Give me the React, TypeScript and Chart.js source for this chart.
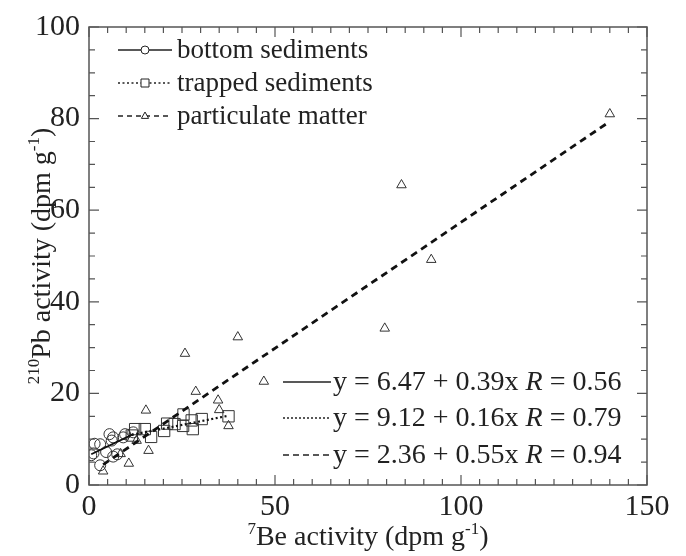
import React, { useEffect, useRef } from "react";
import { Chart, registerables } from "chart.js";

Chart.register(...registerables);

// ---- data ----
const bottomX = [0.6, 1.2, 1.5, 3.0, 3.0, 4.6, 5.5, 6.1, 6.5, 6.5, 7.6, 9.2, 9.7, 11.9];
const bottomY = [6.5, 6.9, 9.0, 8.9, 4.3, 7.2, 11.1, 9.7, 10.4, 6.2, 6.7, 10.4, 11.1, 11.5];

const trappedX = [11.5, 12.4, 15.0, 16.7, 20.2, 21.0, 23.0, 25.3, 25.4, 27.6, 27.9, 30.3, 37.5];
const trappedY = [10.8, 12.2, 12.2, 10.5, 11.8, 13.4, 13.3, 12.9, 15.4, 14.1, 12.2, 14.4, 15.0];

const particX = [140, 84, 92, 79.5, 40, 25.8, 47, 28.7, 34.7, 35, 37.5, 15.3, 12.8, 16, 8.5, 10.7, 3.8];
const particY = [81, 65.5, 49.2, 34.2, 32.3, 28.7, 22.6, 20.4, 18.5, 16.4, 12.9, 16.3, 9.7, 7.5, 6.8, 4.7, 3.0];

// linear fits as printed on the chart
const fitIntercepts = [6.47, 9.12, 2.36];
const fitSlopes = [0.39, 0.16, 0.55];
const fitFrom = [0.6, 11.5, 3.8];
const fitTo = [11.9, 37.5, 140];
const fitLabels = ["y = 6.47 + 0.39x ", "y = 9.12 + 0.16x ", "y = 2.36 + 0.55x "];
const fitR = ["0.56", "0.79", "0.94"];

const seriesNames = ["bottom sediments", "trapped sediments", "particulate matter"];
const xTicks = [0, 50, 100, 150];
const yTicks = [0, 20, 40, 60, 80, 100];

const INK = "#222";
const FRAME = "#555";
const SERIF = "'Liberation Serif', 'Times New Roman', serif";

const dashes: number[][] = [[], [2, 2.5], [7, 5]];
const widths = [1.8, 2.2, 2.8];
const markers = ["circle", "rect", "triangle"];

function pts(xs: number[], ys: number[]) {
  return xs.map((x, i) => ({ x, y: ys[i] }));
}

function drawMarker(ctx: CanvasRenderingContext2D, style: string, x: number, y: number, r: number) {
  ctx.beginPath();
  if (style === "circle") {
    ctx.arc(x, y, r, 0, Math.PI * 2);
  } else if (style === "rect") {
    ctx.rect(x - r, y - r, 2 * r, 2 * r);
  } else {
    ctx.moveTo(x, y - r);
    ctx.lineTo(x + r * 0.9, y + r * 0.6);
    ctx.lineTo(x - r * 0.9, y + r * 0.6);
    ctx.closePath();
  }
  ctx.fillStyle = "#fff";
  ctx.fill();
  ctx.stroke();
}

const decorPlugin = {
  id: "decor",
  afterDraw(chart: any) {
    const { ctx, chartArea } = chart;
    const xs = chart.scales.x;
    const ys = chart.scales.y;
    const { left, right, top, bottom } = chartArea;
    ctx.save();

    // frame
    ctx.strokeStyle = FRAME;
    ctx.lineWidth = 1.5;
    ctx.setLineDash([]);
    ctx.strokeRect(left, top, right - left, bottom - top);

    // inward ticks
    ctx.lineWidth = 1.2;
    ctx.beginPath();
    for (let v = 0; v <= 150; v += 5) {
      const px = xs.getPixelForValue(v);
      const len = v % 50 === 0 ? 10 : 6;
      ctx.moveTo(px, bottom);
      ctx.lineTo(px, bottom - len);
      ctx.moveTo(px, top);
      ctx.lineTo(px, top + len);
    }
    for (let v = 0; v <= 100; v += 5) {
      const py = ys.getPixelForValue(v);
      const len = v % 20 === 0 ? 10 : 6;
      ctx.moveTo(left, py);
      ctx.lineTo(left + len, py);
      ctx.moveTo(right, py);
      ctx.lineTo(right - len, py);
    }
    ctx.stroke();

    // axis titles
    ctx.fillStyle = INK;
    ctx.textBaseline = "alphabetic";
    const big = `28px ${SERIF}`;
    const small = `17px ${SERIF}`;
    const drawParts = (parts: [string, boolean][], cx: number, cy: number) => {
      let total = 0;
      parts.forEach(([t, sup]) => {
        ctx.font = sup ? small : big;
        total += ctx.measureText(t).width;
      });
      let x = cx - total / 2;
      parts.forEach(([t, sup]) => {
        ctx.font = sup ? small : big;
        ctx.textAlign = "left";
        ctx.fillText(t, x, sup ? cy - 11 : cy);
        x += ctx.measureText(t).width;
      });
    };
    drawParts(
      [["7", true], ["Be activity (dpm g", false], ["-1", true], [")", false]],
      (left + right) / 2,
      545
    );
    ctx.save();
    ctx.translate(50, (top + bottom) / 2);
    ctx.rotate(-Math.PI / 2);
    drawParts(
      [["210", true], ["Pb activity (dpm g", false], ["-1", true], [")", false]],
      0,
      0
    );
    ctx.restore();

    // series legend (top-left)
    const legRows = [50, 83, 116];
    ctx.strokeStyle = INK;
    ctx.font = `27px ${SERIF}`;
    ctx.textAlign = "left";
    ctx.textBaseline = "middle";
    for (let i = 0; i < 3; i++) {
      const y = legRows[i];
      ctx.lineWidth = i === 0 ? 1.6 : 1.4;
      ctx.setLineDash(i === 0 ? [] : i === 1 ? [2, 2.5] : [5, 4]);
      ctx.beginPath();
      ctx.moveTo(118, y);
      ctx.lineTo(172, y);
      ctx.stroke();
      ctx.setLineDash([]);
      ctx.lineWidth = 1;
      drawMarker(ctx, markers[i], 145, y, 4);
      ctx.fillStyle = INK;
      ctx.fillText(seriesNames[i], 177, y + 1);
    }

    // fit legend (bottom-right)
    const eqRows = [382, 418, 455];
    for (let i = 0; i < 3; i++) {
      const y = eqRows[i];
      ctx.lineWidth = 1.6;
      ctx.setLineDash(i === 0 ? [] : i === 1 ? [2, 2] : [6, 4]);
      ctx.beginPath();
      ctx.moveTo(283, y);
      ctx.lineTo(331, y);
      ctx.stroke();
      ctx.setLineDash([]);
      let x = 333;
      ctx.font = `28px ${SERIF}`;
      ctx.fillText(fitLabels[i], x, y + 1);
      x += ctx.measureText(fitLabels[i]).width;
      ctx.font = `italic 28px ${SERIF}`;
      ctx.fillText("R", x, y + 1);
      x += ctx.measureText("R").width;
      ctx.font = `28px ${SERIF}`;
      ctx.fillText(" = " + fitR[i], x, y + 1);
    }
    ctx.restore();
  },
};

export default function App() {
  const ref = useRef<HTMLCanvasElement | null>(null);

  useEffect(() => {
    if (!ref.current) return;
    const fitSets = fitIntercepts.map((b, i) => ({
      type: "line" as const,
      label: "fit " + i,
      data: [
        { x: fitFrom[i], y: b + fitSlopes[i] * fitFrom[i] },
        { x: fitTo[i], y: b + fitSlopes[i] * fitTo[i] },
      ],
      borderColor: "#111",
      borderWidth: widths[i],
      borderDash: dashes[i],
      pointRadius: 0,
      fill: false,
      order: 1,
    }));
    const markerStyle = {
      backgroundColor: "rgba(255,255,255,0)",
      borderColor: "#333",
      borderWidth: 1,
      order: 2,
    };
    const chart = new Chart(ref.current, {
      type: "scatter",
      data: {
        datasets: [
          { label: seriesNames[0], data: pts(bottomX, bottomY), pointStyle: "circle", pointRadius: 5.5, ...markerStyle },
          { label: seriesNames[1], data: pts(trappedX, trappedY), pointStyle: "rect", pointRadius: 8, ...markerStyle },
          { label: seriesNames[2], data: pts(particX, particY), pointStyle: "triangle", pointRadius: 5.5, ...markerStyle },
          ...fitSets,
        ] as any,
      },
      options: {
        animation: false,
        responsive: false,
        layout: { padding: { top: 20, right: 39, left: 0, bottom: 0 } },
        plugins: { legend: { display: false }, tooltip: { enabled: false } },
        scales: {
          x: {
            type: "linear",
            min: 0,
            max: 150,
            afterBuildTicks: (s: any) => {
              s.ticks = xTicks.map((v) => ({ value: v }));
            },
            afterFit: (s: any) => {
              s.height = 71;
            },
            grid: { display: false, drawTicks: false },
            border: { display: false },
            ticks: { color: INK, font: { family: SERIF, size: 30 }, padding: 4, maxRotation: 0 },
          },
          y: {
            type: "linear",
            min: 0,
            max: 100,
            afterBuildTicks: (s: any) => {
              s.ticks = yTicks.map((v) => ({ value: v }));
            },
            afterFit: (s: any) => {
              s.width = 89;
            },
            grid: { display: false, drawTicks: false },
            border: { display: false },
            ticks: { color: INK, font: { family: SERIF, size: 30 }, padding: 9 },
          },
        },
      } as any,
      plugins: [decorPlugin],
    });
    return () => chart.destroy();
  }, []);

  return (
    <div style={{ position: "absolute", left: 0, top: 0, width: 686, height: 556, background: "#fff" }}>
      <canvas ref={ref} width={686} height={556} style={{ display: "block" }} />
    </div>
  );
}
